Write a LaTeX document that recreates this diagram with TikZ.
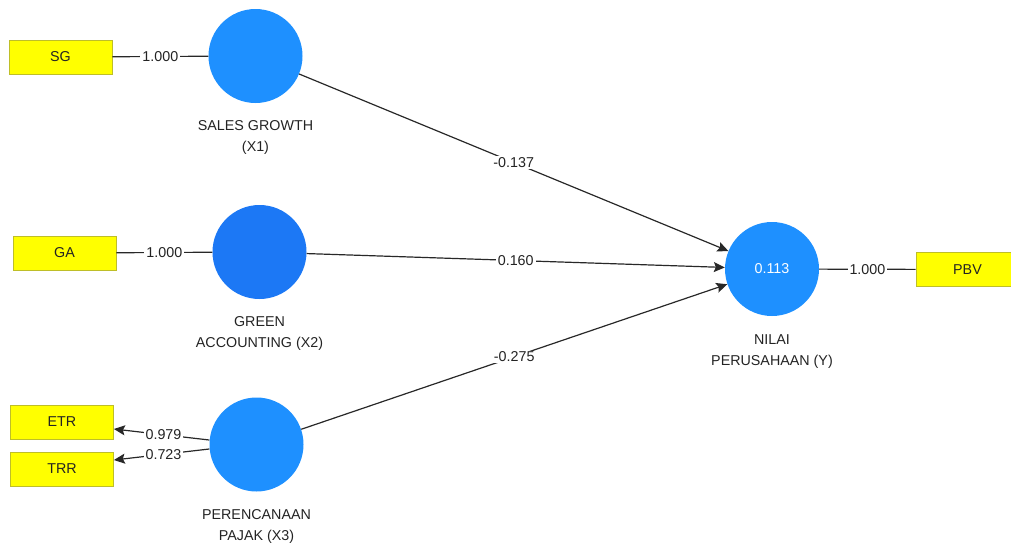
\documentclass[tikz,border=0pt]{standalone}
\usepackage{fontspec}
\setmainfont{Liberation Sans}
\usetikzlibrary{arrows.meta}
\definecolor{lvblue}{RGB}{30,144,255}
\definecolor{lvdark}{RGB}{28,120,245}
\definecolor{indyel}{RGB}{255,255,0}
\definecolor{indbord}{RGB}{190,190,40}
\definecolor{txt}{RGB}{35,35,35}
\definecolor{edge}{RGB}{40,40,40}
\begin{document}
\begin{tikzpicture}[x=1pt,y=-1pt,
  every node/.style={font=\fontsize{14.3}{21}\selectfont, text=txt},
  latent/.style={circle, minimum size=94pt, inner sep=0pt, fill=lvblue},
  indicator/.style={rectangle, minimum width=103pt, minimum height=34pt, inner sep=0pt, fill=indyel, draw=indbord, line width=0.8pt},
  caption/.style={align=center},
  conn/.style={draw=edge, line width=1.2pt},
  arr/.style={conn, -{Stealth[length=11pt,width=10pt,inset=2pt]}},
  wlab/.style={fill=white, inner xsep=2pt, inner ysep=1pt}
]
\useasboundingbox (0,0) rectangle (1011,547);

% latent variables
\node[latent] (X1) at (255.5,56) {};
\node[latent, fill=lvdark] (X2) at (259.5,252) {};
\node[latent] (X3) at (256.5,444.5) {};
\node[latent] (Y) at (772,269) {\textcolor{white}{0.113}};

% captions
\node[caption] (X1cap) at (255.5,137.5) {SALES GROWTH\\(X1)};
\node[caption] (X2cap) at (259.5,333.5) {GREEN\\ACCOUNTING (X2)};
\node[caption] (X3cap) at (256.5,526.5) {PERENCANAAN\\PAJAK (X3)};
\node[caption] (Ycap) at (772,351.5) {NILAI\\PERUSAHAAN (Y)};

% indicators
\node[indicator] (SG) at (60.5,57) {SG};
\node[indicator] (GA) at (64.5,253) {GA};
\node[indicator] (ETR) at (62,422) {ETR};
\node[indicator] (TRR) at (62,469) {TRR};
\node[indicator] (PBV) at (967.5,269.5) {PBV};

% outer model
\draw[conn] (SG) -- node[wlab] {1.000} (X1);
\draw[conn] (GA) -- node[wlab] {1.000} (X2);
\draw[conn] (Y) -- node[wlab] {1.000} (PBV);
\draw[arr] ([yshift=4.5pt]X3.west) -- node[wlab, pos=0.48] {0.979} ([yshift=-7pt]ETR.east);
\draw[arr] ([yshift=-4.5pt]X3.west) -- node[wlab, pos=0.48] {0.723} ([yshift=9pt]TRR.east);

% inner model
\draw[arr] (X1) -- node[wlab] {-0.137} (Y);
\draw[arr] (X2) -- node[wlab] {0.160} (Y);
\draw[arr] (X3) -- node[wlab] {-0.275} (Y);
\end{tikzpicture}
\end{document}
